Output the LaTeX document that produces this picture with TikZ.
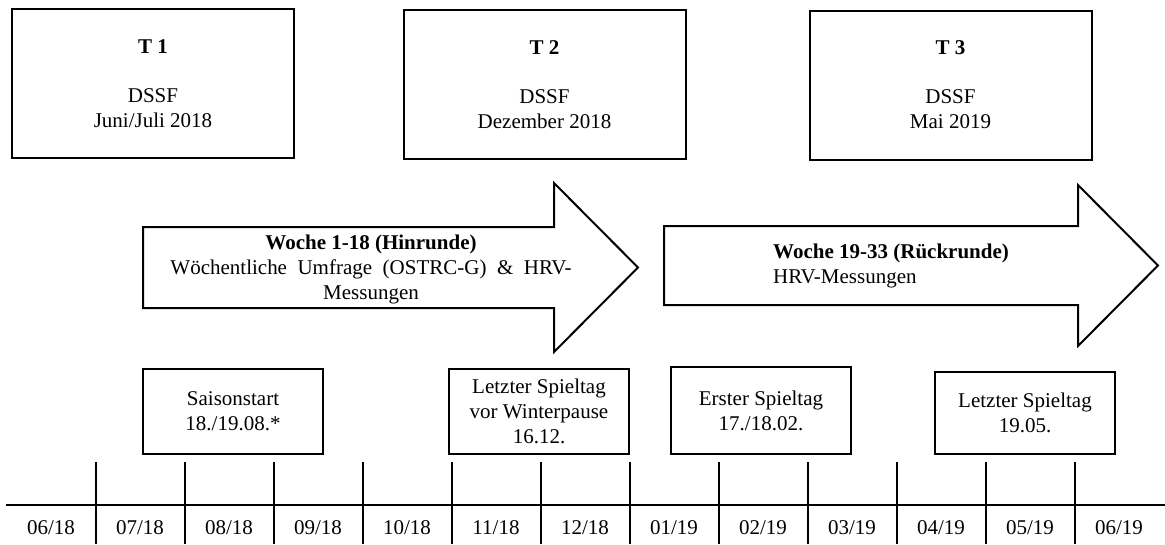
\documentclass[tikz,border=0pt]{standalone}
\usepackage{fontspec}
\setmainfont{Liberation Serif}
\begin{document}
\begin{tikzpicture}[x=1pt,y=-1pt,
  lw/.style={line width=2pt},
  txt/.style={font=\fontsize{21}{25}\selectfont, inner sep=0pt, align=center},
  tbox/.style={draw, lw, txt, minimum width=282pt, minimum height=149pt},
  ebox/.style={draw, lw, txt, minimum width=180pt},
  arr/.style={draw, lw, line join=miter, fill=white},
  tick/.style={line width=1.4pt},
  month/.style={txt}
]
\useasboundingbox (0,0) rectangle (1165,544);

% top boxes
\node[tbox] (t1) at (153,83.5) {\textbf{T 1}\\[24pt]DSSF\\Juni/Juli 2018};
\node[tbox] (t2) at (544.5,84.5) {\textbf{T 2}\\[24pt]DSSF\\Dezember 2018};
\node[tbox] (t3) at (950.5,85) {\textbf{T 3}\\[24pt]DSSF\\Mai 2019};

% arrows
\draw[arr] (143,227) -- (554,227) -- (554,183) -- (638,267.5) -- (554,352) -- (554,308) -- (143,308) -- cycle;
\node[txt] (a1) at (371,269) {\textbf{Woche 1-18 (Hinrunde)}\\Wöchentliche\ \ Umfrage\ \ (OSTRC-G)\ \ \&\ \ HRV-\\Messungen};
\draw[arr] (664,226) -- (1078,226) -- (1078,185) -- (1158,265.5) -- (1078,346) -- (1078,305) -- (664,305) -- cycle;
\node[txt, align=left, anchor=west] (a2) at (773,266) {\textbf{Woche 19-33 (Rückrunde)}\\HRV-Messungen};

% event boxes
\node[ebox, minimum height=85pt] (e1) at (233,411.5) {Saisonstart\\18./19.08.*};
\node[ebox, minimum height=85pt] (e2) at (539,411.5) {Letzter Spieltag\\vor Winterpause\\16.12.};
\node[ebox, minimum height=87pt] (e3) at (761,410.5) {Erster Spieltag\\17./18.02.};
\node[ebox, minimum height=82pt] (e4) at (1025,413) {Letzter Spieltag\\19.05.};

% timeline
\coordinate (tl0) at (6,505);
\coordinate (tl1) at (1165,505);
\draw[tick] (tl0) -- (tl1);
\foreach \i in {0,...,11} {
  \coordinate (ta\i) at (96+89*\i,462);
  \coordinate (tb\i) at (96+89*\i,544);
  \draw[tick] (ta\i) -- (tb\i);
}
\foreach \m [count=\k from 0] in {06/18,07/18,08/18,09/18,10/18,11/18,12/18,01/19,02/19,03/19,04/19,05/19,06/19} {
  \node[month] (m\k) at (51+89*\k,528) {\m};
}
\end{tikzpicture}
\end{document}
